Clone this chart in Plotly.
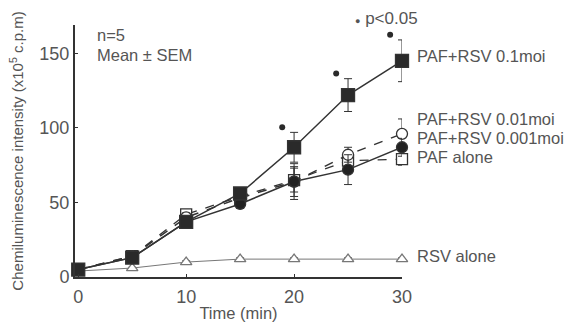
import plotly.graph_objects as go

times = [0, 5, 10, 15, 20, 25, 30]

paf_rsv_01 = [5, 13, 37, 56, 87, 122, 145]
paf_rsv_01_err = [1, 2, 3, 3, 10, 11, 14]

paf_rsv_001 = [5, 14, 40, 53, 64, 82, 96]
paf_rsv_001_err = [1, 2, 3, 3, 10, 5, 10]

paf_rsv_0001 = [5, 13, 37, 49, 64, 72, 87]
paf_rsv_0001_err = [1, 2, 3, 3, 12, 10, 6]

paf_alone = [5, 14, 42, 54, 65, 78, 79]
paf_alone_err = [1, 2, 3, 3, 8, 5, 4]

rsv_alone = [4, 6, 10, 12, 12, 12, 12]
rsv_alone_err = [0.5, 0.5, 1, 1, 1, 1, 1]

sig_times = [20, 25, 30]

series_labels = ["PAF+RSV 0.1moi", "PAF+RSV 0.01moi", "PAF+RSV 0.001moi", "PAF alone", "RSV alone"]
label_y = [148, 106, 93, 80.5, 14]

y_ticks = [0, 50, 100, 150]
x_ticks = [0, 10, 20, 30]

FONT = "Liberation Sans, Arial, sans-serif"
DARK = "#333333"
GRAY = "#555555"

ML, MR, MT, MB, W, H = 75, 169, 25, 45, 571, 322
PW, PH = W - ML - MR, H - MT - MB

def px(xp):
    return (xp - ML) / PW

def py(yp):
    return (H - MB - yp) / PH

fig = go.Figure()

def add(y, err, symbol, dash, size, color, width, fill):
    fig.add_trace(go.Scatter(
        x=times, y=y, mode="lines+markers",
        line=dict(color=color, width=width, dash=dash),
        marker=dict(symbol=symbol, size=size, color=fill,
                    line=dict(color=color, width=1.3)),
        error_y=dict(type="data", array=err, color=color, thickness=1, width=4),
        showlegend=False, cliponaxis=False, hoverinfo="skip",
    ))

add(rsv_alone, rsv_alone_err, "triangle-up", "solid", 10, "#777777", 1.0, "white")
add(paf_alone, paf_alone_err, "square", "dash", 11, DARK, 1.3, "white")
add(paf_rsv_001, paf_rsv_001_err, "circle", "dash", 11, DARK, 1.5, "white")
add(paf_rsv_0001, paf_rsv_0001_err, "circle", "solid", 11, DARK, 1.5, "#222222")
add(paf_rsv_01, paf_rsv_01_err, "square", "solid", 13, DARK, 1.5, "#2a2a2a")

# significance markers, placed just above-left of the 0.1moi error bars
sig_idx = [times.index(t) for t in sig_times]
fig.add_trace(go.Scatter(
    x=[times[i] - 1.1 for i in sig_idx],
    y=[paf_rsv_01[i] + paf_rsv_01_err[i] + 3.5 for i in sig_idx],
    mode="markers", marker=dict(symbol="circle", size=6, color="#2a2a2a"),
    showlegend=False, cliponaxis=False, hoverinfo="skip",
))

annotations = []
for lab, ly in zip(series_labels, label_y):
    annotations.append(dict(x=30, y=ly, xref="x", yref="y", text=lab, showarrow=False,
                            xanchor="left", yanchor="middle", xshift=13,
                            font=dict(size=16.5, color=GRAY, family=FONT)))
annotations += [
    dict(x=px(95), y=py(35), xref="paper", yref="paper", text="n=5", showarrow=False,
         xanchor="left", yanchor="middle", font=dict(size=16.5, color=GRAY, family=FONT)),
    dict(x=px(95), y=py(55), xref="paper", yref="paper", text="Mean ± SEM", showarrow=False,
         xanchor="left", yanchor="middle", font=dict(size=16.5, color=GRAY, family=FONT)),
    dict(x=px(353), y=py(18), xref="paper", yref="paper",
         text="<span style='font-size:9px'>●</span> p<0.05",
         showarrow=False, xanchor="left", yanchor="middle",
         font=dict(size=17, color=GRAY, family=FONT)),
]

fig.update_layout(
    width=W, height=H,
    margin=dict(l=ML, r=MR, t=MT, b=MB),
    paper_bgcolor="white", plot_bgcolor="white",
    font=dict(family=FONT, color=GRAY),
    xaxis=dict(range=[-0.3, 30], tickvals=x_ticks, ticks="inside", ticklen=3,
               tickcolor=DARK, showline=True, linecolor=DARK, linewidth=2,
               showgrid=False, zeroline=False, tickfont=dict(size=18, color=GRAY),
               ticklabelstandoff=2, automargin=False,
               title=dict(text="Time (min)", font=dict(size=16.5, color=GRAY), standoff=7)),
    yaxis=dict(range=[0, 169], tickvals=y_ticks, ticks="inside", ticklen=3,
               tickcolor=DARK, showline=True, linecolor=DARK, linewidth=2,
               showgrid=False, zeroline=False, tickfont=dict(size=18, color=GRAY),
               automargin=False,
               title=dict(text="Chemiluminescence intensity (x10<sup>5</sup> c.p.m)",
                          font=dict(size=15, color=GRAY), standoff=12)),
    annotations=annotations,
)

fig.write_html("out.html", config={"displayModeBar": False},
               post_script="document.body.style.margin='0';")
